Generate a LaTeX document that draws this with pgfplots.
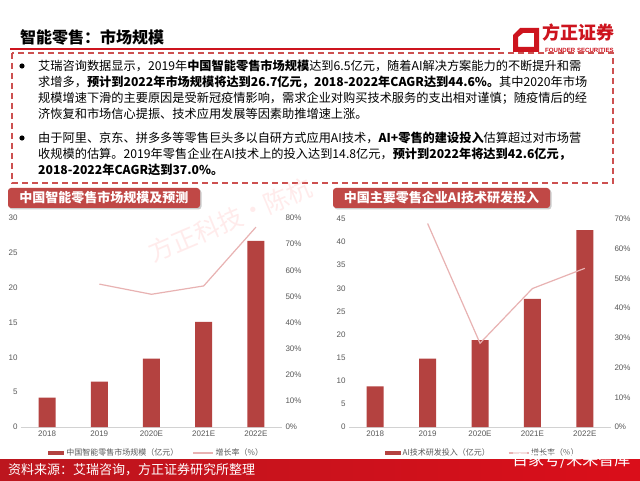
\documentclass[border=0pt]{standalone}
\usepackage{fontspec}
\usepackage{pgfplots}
\pgfplotsset{compat=1.18}
\setmainfont{Noto Sans CJK SC}
\newfontfamily\latinfont{Liberation Sans}
\XeTeXlinebreaklocale "zh"
\XeTeXlinebreakskip=0pt plus 1pt
\definecolor{barred}{RGB}{180,66,64}
\definecolor{linepink}{RGB}{232,178,178}
\definecolor{titred}{RGB}{192,72,70}
\definecolor{brandred}{RGB}{205,20,30}
\definecolor{dashred}{RGB}{205,80,80}
\definecolor{tickgray}{RGB}{89,89,89}
\definecolor{axgray}{RGB}{210,210,210}
\pgfplotsset{
  common/.style={
    scale only axis, anchor=south west,
    xmin=-0.5, xmax=4.5, ymin=0,
    tick style={draw=none},
    ticklabel style={font=\latinfont\fontsize{8}{9}\selectfont, text=tickgray},
    /pgf/number format/assume math mode=true,
    clip=false,
  },
  barleg/.style={legend image code/.code={\fill[barred] (0pt,-2.2pt) rectangle (16pt,2.2pt);}},
  lineleg/.style={legend image code/.code={\draw[linepink, line width=1.2pt] (0pt,0pt) -- (20pt,0pt);}},
}
\newcommand{\jline}[1]{\makebox[565pt][s]{#1}}
\begin{document}
\begin{tikzpicture}[x=1pt,y=1pt]
\useasboundingbox (0,0) rectangle (640,480);
\fill[white] (0,0) rectangle (640,480);
% header
\node[anchor=west, inner sep=0, font=\fontsize{16}{19}\selectfont\bfseries] at (20,443) {智能零售：市场规模};
\draw[brandred, line width=1.8pt] (10,431) -- (500,431);
% logo
\fill[brandred, even odd rule] (520,452) -- (539,452) -- (539,428) -- (513,428) -- (513,445) -- cycle
  (523,447) -- (534,447) -- (534,433) -- (518,433) -- (518,443) -- cycle;
\node[anchor=west, inner sep=0, text=brandred, font=\fontsize{18}{20}\selectfont\bfseries] at (542,447) {方正证券};
\node[anchor=west, inner sep=0, text=brandred, font=\latinfont\fontsize{6.1}{7}\selectfont\bfseries] at (545,430) {FOUNDER SECURITIES};
% dashed box
\draw[dashred, line width=1.2pt, dash pattern=on 6pt off 4pt] (12,427) rectangle (613,297);
\fill (22,414) circle (2.6pt);
\fill (22,342) circle (2.6pt);
\begin{scope}[every node/.style={anchor=west, inner sep=0, font=\fontsize{12.2}{14}\selectfont}]
\node at (38,414) {\jline{艾瑞咨询数据显示，2019年\textbf{中国智能零售市场规模}达到6.5亿元，随着AI解决方案能力的不断提升和需}};
\node at (38,398) {\jline{求增多，\textbf{预计到2022年市场规模将达到26.7亿元，2018-2022年CAGR达到44.6\%。}其中2020年市场}};
\node at (38,382) {\jline{规模增速下滑的主要原因是受新冠疫情影响，需求企业对购买技术服务的支出相对谨慎；随疫情后的经}};
\node at (38,366) {济恢复和市场信心提振、技术应用发展等因素助推增速上涨。};
\node at (38,342) {\jline{由于阿里、京东、拼多多等零售巨头多以自研方式应用AI技术，\textbf{AI+零售的建设投入}估算超过对市场营}};
\node at (38,326) {收规模的估算。2019年零售企业在AI技术上的投入达到14.8亿元，\textbf{预计到2022年将达到42.6亿元，}};
\node at (38,310) {\textbf{2018-2022年CAGR达到37.0\%。}};
\end{scope}
% watermark
\node[rotate=23, text=red!25!white, opacity=0.3, font=\fontsize{25}{25}\selectfont] at (230,260) {方正科技·陈杭};
% chart titles
\fill[black!20, rounded corners=3pt] (9.5,270.5) rectangle (201.5,290.5);
\fill[titred, rounded corners=3pt] (8,272) rectangle (200,292);
\node[text=white, font=\fontsize{13}{15}\selectfont\bfseries] at (104,282) {中国智能零售市场规模及预测};
\fill[black!20, rounded corners=3pt] (334.5,270.5) rectangle (551.5,290.5);
\fill[titred, rounded corners=3pt] (333,272) rectangle (550,292);
\node[text=white, font=\fontsize{13}{15}\selectfont\bfseries] at (441.5,282) {中国主要零售企业AI技术研发投入};
% left chart
\begin{axis}[common, at={(21pt,53pt)}, width=261pt, height=209pt,
  ymax=30, ytick={0,5,...,30},
  xtick={0,1,2,3,4}, xticklabels={2018,2019,2020E,2021E,2022E},
  axis y line*=left, axis x line*=bottom,
  y axis line style={draw=none}, x axis line style={draw=axgray, line width=0.8pt},
  legend columns=2,
  legend style={draw=none, fill=none, at={(0.52,-0.124)}, anchor=center,
    font=\fontsize{8}{9}\selectfont, text=tickgray,
    /tikz/every even column/.append style={column sep=12pt}},
]
\addplot[ybar, bar width=17pt, fill=barred, draw=none, barleg] coordinates {(0,4.2) (1,6.5) (2,9.8) (3,15.1) (4,26.7)};
\addlegendentry{中国智能零售市场规模（亿元）}
\addlegendimage{lineleg}
\addlegendentry{增长率（\%）}
\end{axis}
\begin{axis}[common, at={(21pt,53pt)}, width=261pt, height=209pt,
  ymax=80, ytick={0,10,...,80},
  yticklabels={0\%,10\%,20\%,30\%,40\%,50\%,60\%,70\%,80\%},
  axis y line*=right, axis x line=none, y axis line style={draw=none},
]
\addplot[linepink, line width=1.2pt, mark=none] coordinates {(1,54.7) (2,50.8) (3,54.0) (4,76.5)};
\end{axis}
% right chart
\begin{axis}[common, at={(349pt,53pt)}, width=262pt, height=208pt,
  ymax=45, ytick={0,5,...,45},
  xtick={0,1,2,3,4}, xticklabels={2018,2019,2020E,2021E,2022E},
  axis y line*=left, axis x line*=bottom,
  y axis line style={draw=none}, x axis line style={draw=axgray, line width=0.8pt},
  legend columns=2,
  legend style={draw=none, fill=none, at={(0.51,-0.125)}, anchor=center,
    font=\fontsize{8}{9}\selectfont, text=tickgray,
    /tikz/every even column/.append style={column sep=16pt}},
]
\addplot[ybar, bar width=17pt, fill=barred, draw=none, barleg] coordinates {(0,8.8) (1,14.8) (2,18.8) (3,27.7) (4,42.6)};
\addlegendentry{AI技术研发投入（亿元）}
\addlegendimage{lineleg}
\addlegendentry{增长率（\%）}
\end{axis}
\begin{axis}[common, at={(349pt,53pt)}, width=262pt, height=208pt,
  ymax=70, ytick={0,10,...,70},
  yticklabels={0\%,10\%,20\%,30\%,40\%,50\%,60\%,70\%},
  axis y line*=right, axis x line=none, y axis line style={draw=none},
]
\addplot[linepink, line width=1.2pt, mark=none] coordinates {(1,68.5) (2,28.2) (3,46.6) (4,53.4)};
\end{axis}
% footer
\shade[left color={rgb,255:red,188;green,22;blue,30}, right color={rgb,255:red,218;green,14;blue,26}] (0,0) rectangle (640,21);
\node[anchor=west, inner sep=0, text=white, font=\fontsize{13}{15}\selectfont] at (8,10.5) {资料来源：艾瑞咨询，方正证券研究所整理};
\node[anchor=west, inner sep=0, text=white, font=\fontsize{16}{18}\selectfont] at (512,20) {百家号/未来智库};
\end{tikzpicture}
\end{document}
